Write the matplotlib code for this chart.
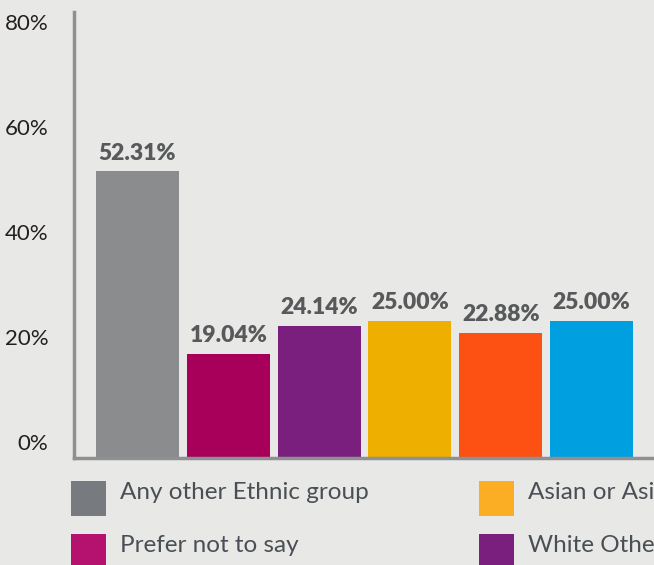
import matplotlib
matplotlib.use("Agg")
import matplotlib.pyplot as plt
from matplotlib.patches import Patch, Rectangle
from matplotlib.legend_handler import HandlerPatch

# donnees
valeurs = [52.31, 19.04, 24.14, 25.00, 22.88, 25.00]
couleurs = ["#8b8c8e", "#a8005a", "#7b1f7e", "#eeaf00", "#fd5114", "#009fdf"]
graduations = [0, 20, 40, 60, 80]
legende_col1 = ["Any other Ethnic group", "Prefer not to say"]
couleurs_col1 = ["#777b7f", "#b5126f"]
legende_col2 = ["Asian or Asian British", "White Other"]
couleurs_col2 = ["#fbae24", "#7b1f7e"]

fond = "#e8e8e6"
gris_axe = "#8e9091"
police = ["Lato", "DejaVu Sans"]

W, H = 654, 565
fig = plt.figure(figsize=(W / 100, H / 100), dpi=100, facecolor=fond)
rect = [73.5 / W, 1 - 458 / H, 1 - 73.5 / W, (458 - 12) / H]

ax = fig.add_axes(rect)
ax.set_facecolor(fond)
x = list(range(len(valeurs)))
barres = ax.bar(x, valeurs, width=0.914, color=couleurs)
for b, v in zip(barres, valeurs):
    ax.annotate("%.2f%%" % v, (b.get_x() + b.get_width() / 2, v),
                xytext=(0, 8.5), textcoords="offset points",
                ha="center", va="baseline", fontsize=16.5, fontweight="heavy",
                family=police, color="#58595b")
ax.set_xlim(-0.705, 5.688)
ax.set_ylim(0, 81.4)
for s in ["top", "right"]:
    ax.spines[s].set_visible(False)
for s in ["left", "bottom"]:
    ax.spines[s].set_color(gris_axe)
    ax.spines[s].set_linewidth(2.5)
ax.set_xticks([])
ax.set_yticks([])

# axe separe pour les etiquettes (decalees vers le haut dans l'original)
ax2 = fig.add_axes(rect, sharex=ax)
ax2.patch.set_visible(False)
for s in ax2.spines.values():
    s.set_visible(False)
ax2.set_ylim(-3.05, 81.9)
ax2.set_yticks(graduations)
ax2.set_yticklabels(["%d%%" % g for g in graduations])
ax2.tick_params(axis="y", length=0, pad=18, labelsize=16, labelcolor="#231f20")
ax2.tick_params(axis="x", bottom=False, labelbottom=False)
for t in ax2.get_yticklabels():
    t.set_family(police)


def carre(legend, orig_handle, xdescent, ydescent, width, height, fontsize):
    c = 1.44 * fontsize
    return Rectangle((-xdescent, -0.7 * fontsize), c, c)


def legende(noms, cols, x0):
    poignees = [Patch(facecolor=c, edgecolor="none") for c in cols]
    leg = fig.legend(poignees, noms, loc="upper left",
                     bbox_to_anchor=(x0 / W, 1 - 482 / H), frameon=False,
                     borderpad=0, borderaxespad=0, handlelength=1.44,
                     handleheight=0.7, handletextpad=0.56, labelspacing=1.32,
                     handler_map={Patch: HandlerPatch(patch_func=carre)},
                     prop={"family": police, "size": 17.5},
                     labelcolor="#4a4f55")
    return leg


legende(legende_col1, couleurs_col1, 71)
legende(legende_col2, couleurs_col2, 479)

fig.savefig("out.png", dpi=100, facecolor=fond)
